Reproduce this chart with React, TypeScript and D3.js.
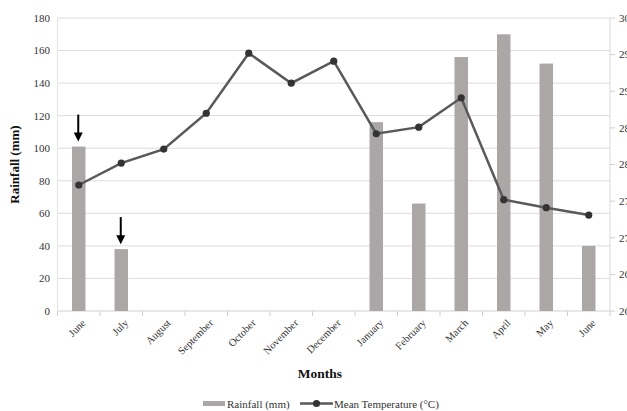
import React from "react";
import * as d3 from "d3";

const months = ["June","July","August","September","October","November","December","January","February","March","April","May","June"];
const rainfall = [101, 38, 0, 0, 0, 0, 0, 116, 66, 156, 170, 152, 40];
const temperature = [27.72, 28.02, 28.21, 28.70, 29.52, 29.11, 29.41, 28.42, 28.51, 28.91, 27.52, 27.41, 27.31];
const rainTicks = [0, 20, 40, 60, 80, 100, 120, 140, 160, 180];
const tempTicks = [26, 26.5, 27, 27.5, 28, 28.5, 29, 29.5, 30];
const arrowIndices = [0, 1];

const W = 627, H = 411;
const left = 57.5, right = 610, top = 18, bottom = 311;
const font = "'Liberation Serif', 'Times New Roman', serif";

export default function App() {
  const idx = months.map((_, i) => String(i));
  const x = d3.scaleBand<string>().domain(idx).range([left, right]).paddingInner(0).paddingOuter(0);
  const yR = d3.scaleLinear().domain([0, 180]).range([bottom, top]);
  const yT = d3.scaleLinear().domain([26, 30]).range([bottom, top]);
  const barW = 13.5;
  const cx = (i: number) => (x(String(i)) as number) + x.bandwidth() / 2;
  const line = d3.line<number>().x((_, i) => cx(i)).y((d) => yT(d));

  return (
    <svg width={W} height={H} style={{ position: "absolute", left: 0, top: 0, background: "#fff" }} fontFamily={font}>
      {/* gridlines */}
      {rainTicks.map((t) => (
        <line key={"g" + t} x1={left} x2={right} y1={yR(t)} y2={yR(t)} stroke={t === 0 ? "#d0d0d0" : "#dcdcdc"} strokeWidth={1} />
      ))}
      <line x1={left} x2={left} y1={top} y2={bottom} stroke="#e4e4e4" />
      <line x1={right} x2={right} y1={top} y2={bottom} stroke="#d9d9d9" />
      {/* x tick marks */}
      {months.map((_, i) => (
        <line key={"xt" + i} x1={x(String(i)) as number} x2={x(String(i)) as number} y1={bottom} y2={bottom + 5} stroke="#d0d0d0" />
      ))}
      <line x1={right} x2={right} y1={bottom} y2={bottom + 5} stroke="#d0d0d0" />
      {/* right tick marks */}
      {tempTicks.map((t) => (
        <line key={"rt" + t} x1={right} x2={right + 5} y1={yT(t)} y2={yT(t)} stroke="#d0d0d0" />
      ))}
      {/* bars */}
      {rainfall.map((v, i) => (
        <rect key={"b" + i} x={cx(i) - barW / 2} width={barW} y={yR(v)} height={bottom - yR(v)} fill="#aba7a7" />
      ))}
      {/* line */}
      <path d={line(temperature) || ""} fill="none" stroke="#595959" strokeWidth={2.5} />
      {temperature.map((v, i) => (
        <circle key={"c" + i} cx={cx(i)} cy={yT(v)} r={3.6} fill="#333" />
      ))}
      {/* arrows */}
      {arrowIndices.map((i) => {
        const tipY = yR(rainfall[i]) - 5;
        const ax = cx(i) - 0.5;
        return (
          <g key={"a" + i}>
            <line x1={ax} x2={ax} y1={tipY - 27} y2={tipY - 7} stroke="#000" strokeWidth={2} />
            <path d={`M${ax - 4.5},${tipY - 9} L${ax + 4.5},${tipY - 9} L${ax},${tipY} Z`} fill="#000" />
          </g>
        );
      })}
      {/* left tick labels */}
      {rainTicks.map((t) => (
        <text key={"lt" + t} x={50} y={yR(t)} dy="0.35em" textAnchor="end" fontSize={11} fill="#333">{t}</text>
      ))}
      {/* right tick labels */}
      {tempTicks.map((t) => (
        <text key={"rl" + t} x={619} y={yT(t)} dy="0.35em" textAnchor="start" fontSize={11} fill="#333">{t}</text>
      ))}
      {/* x labels */}
      {months.map((m, i) => (
        <text key={"xl" + i} transform={`translate(${cx(i) + 5},${bottom + 10}) rotate(-45)`} textAnchor="end" dy="0.35em" fontSize={10.5} fill="#333">{m}</text>
      ))}
      {/* axis titles */}
      <text transform={`translate(19,${(top + bottom) / 2}) rotate(-90)`} textAnchor="middle" fontSize={13} fontWeight="bold" fill="#111">Rainfall (mm)</text>
      <text x={320} y={378} textAnchor="middle" fontSize={13.5} fontWeight="bold" fill="#111">Months</text>
      {/* legend */}
      <rect x={203} y={401} width={22} height={5} fill="#aba7a7" />
      <text x={227} y={404} dy="0.35em" fontSize={11} fill="#333">Rainfall (mm)</text>
      <line x1={300} x2={333} y1={403.5} y2={403.5} stroke="#595959" strokeWidth={2.5} />
      <circle cx={316.5} cy={403.5} r={3.6} fill="#333" />
      <text x={334} y={404} dy="0.35em" fontSize={11} fill="#333">Mean Temperature (°C)</text>
    </svg>
  );
}
